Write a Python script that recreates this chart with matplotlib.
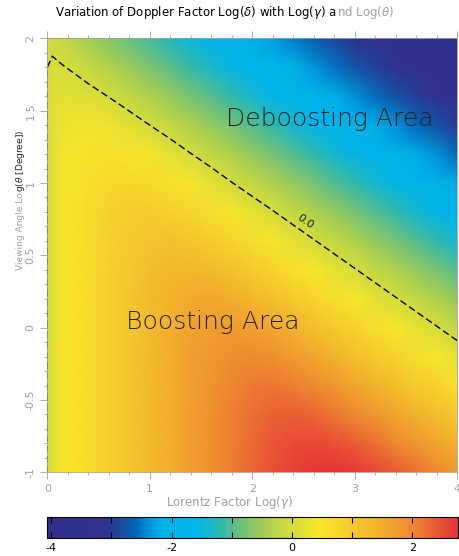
import numpy as np
import matplotlib
matplotlib.use('Agg')
import matplotlib.pyplot as plt
from matplotlib.colors import LinearSegmentedColormap, Normalize
from matplotlib.ticker import MultipleLocator

# grid nodes: Lorentz factor log(gamma) and viewing angle log(theta [deg])
log_gamma = [0, 0.05, 0.1, 0.2, 0.4, 0.6, 0.8, 1.0, 1.2, 1.4, 1.6, 1.8, 2.0,
             2.2, 2.4, 2.6, 2.8, 3.0, 3.2, 3.4, 3.6, 3.8, 4.0]
log_theta = [-1.0, -0.8, -0.6, -0.4, -0.2, 0.0, 0.2, 0.4, 0.6, 0.8, 1.0, 1.2, 1.4, 1.6, 1.8, 2.0]

# log(delta), one row per log(theta)
row_m10 = [0.00, 0.21, 0.31, 0.45, 0.68, 0.89, 1.10, 1.30, 1.50, 1.70, 1.90, 2.10, 2.29, 2.47, 2.62, 2.73, 2.76, 2.69, 2.56, 2.40, 2.21, 2.01, 1.82]
row_m08 = [0.00, 0.21, 0.31, 0.45, 0.68, 0.89, 1.10, 1.30, 1.50, 1.70, 1.90, 2.09, 2.27, 2.42, 2.53, 2.56, 2.49, 2.36, 2.20, 2.01, 1.81, 1.62, 1.42]
row_m06 = [0.00, 0.21, 0.31, 0.45, 0.68, 0.89, 1.10, 1.30, 1.50, 1.70, 1.89, 2.07, 2.22, 2.33, 2.36, 2.29, 2.16, 2.00, 1.81, 1.61, 1.42, 1.22, 1.02]
row_m04 = [0.00, 0.21, 0.31, 0.45, 0.68, 0.89, 1.10, 1.30, 1.50, 1.69, 1.87, 2.02, 2.13, 2.16, 2.09, 1.96, 1.80, 1.61, 1.41, 1.22, 1.02, 0.82, 0.62]
row_m02 = [0.00, 0.21, 0.31, 0.45, 0.68, 0.89, 1.10, 1.29, 1.49, 1.67, 1.82, 1.93, 1.96, 1.89, 1.76, 1.60, 1.41, 1.21, 1.02, 0.82, 0.62, 0.42, 0.22]
row_p00 = [0.00, 0.21, 0.31, 0.45, 0.68, 0.89, 1.09, 1.29, 1.47, 1.62, 1.73, 1.76, 1.69, 1.56, 1.40, 1.21, 1.01, 0.82, 0.62, 0.42, 0.22, 0.02, -0.18]
row_p02 = [0.00, 0.21, 0.31, 0.45, 0.68, 0.89, 1.09, 1.27, 1.42, 1.53, 1.56, 1.49, 1.36, 1.20, 1.01, 0.81, 0.62, 0.42, 0.22, 0.02, -0.18, -0.38, -0.58]
row_p04 = [0.00, 0.21, 0.31, 0.45, 0.68, 0.88, 1.07, 1.22, 1.33, 1.36, 1.29, 1.16, 1.00, 0.81, 0.61, 0.42, 0.22, 0.02, -0.18, -0.38, -0.58, -0.78, -0.98]
row_p06 = [0.00, 0.21, 0.30, 0.45, 0.67, 0.86, 1.02, 1.13, 1.16, 1.09, 0.96, 0.80, 0.61, 0.41, 0.22, 0.02, -0.18, -0.38, -0.58, -0.78, -0.98, -1.18, -1.38]
row_p08 = [0.00, 0.21, 0.30, 0.44, 0.65, 0.82, 0.93, 0.96, 0.89, 0.76, 0.60, 0.41, 0.21, 0.02, -0.18, -0.38, -0.58, -0.78, -0.98, -1.18, -1.38, -1.58, -1.78]
row_p10 = [0.00, 0.21, 0.30, 0.43, 0.62, 0.73, 0.76, 0.70, 0.57, 0.40, 0.21, 0.01, -0.18, -0.38, -0.58, -0.78, -0.98, -1.18, -1.38, -1.58, -1.78, -1.98, -2.18]
row_p12 = [0.00, 0.20, 0.28, 0.40, 0.53, 0.56, 0.50, 0.37, 0.20, 0.01, -0.18, -0.38, -0.58, -0.78, -0.98, -1.18, -1.38, -1.58, -1.78, -1.98, -2.18, -2.38, -2.58]
row_p14 = [0.00, 0.18, 0.25, 0.33, 0.37, 0.31, 0.17, 0.00, -0.18, -0.38, -0.58, -0.78, -0.98, -1.18, -1.38, -1.58, -1.78, -1.98, -2.18, -2.38, -2.58, -2.78, -2.98]
row_p16 = [0.00, 0.14, 0.17, 0.19, 0.13, -0.01, -0.18, -0.37, -0.57, -0.77, -0.97, -1.17, -1.37, -1.57, -1.77, -1.97, -2.17, -2.37, -2.57, -2.77, -2.97, -3.17, -3.37]
row_p18 = [0.00, 0.05, 0.04, -0.01, -0.17, -0.35, -0.54, -0.74, -0.94, -1.14, -1.34, -1.54, -1.74, -1.94, -2.14, -2.34, -2.54, -2.74, -2.94, -3.14, -3.34, -3.54, -3.74]
row_p20 = [0.00, -0.08, -0.14, -0.25, -0.46, -0.67, -0.87, -1.07, -1.27, -1.47, -1.67, -1.87, -2.07, -2.27, -2.47, -2.67, -2.87, -3.07, -3.27, -3.47, -3.67, -3.87, -4.07]
log_delta = np.array([row_m10, row_m08, row_m06, row_m04, row_m02, row_p00, row_p02, row_p04,
                      row_p06, row_p08, row_p10, row_p12, row_p14, row_p16, row_p18, row_p20])

x_ticks = [0, 1, 2, 3, 4]
y_ticks = [-1, -0.5, 0, 0.5, 1, 1.5, 2]
y_ticklabels = ['-1', '-0.5', '0', '0.5', '1', '1.5', '2']
cb_ticks = [-4, -3, -2, -1, 0, 1, 2]
cb_ticklabels = ['-4', '', '-2', '', '0', '', '2']

# colour table
cmap_values = [-4.07, -3.1, -2.85, -2.6, -2.4, -2.15, -1.6, -1.35, -1.15, -0.95,
               -0.63, -0.3, 0.0, 0.45, 1.0, 1.5, 2.0, 2.35, 2.76]
cmap_colors = ['#2f2f8c', '#31318e', '#1c4a9c', '#0068b8', '#0090d8', '#00b2ea',
               '#00b4ec', '#18b8cc', '#34b9a4', '#5abe88', '#90c860', '#b8d448',
               '#d4dc3c', '#f8e62a', '#f5cb2c', '#f2ae2c', '#ee8a30', '#ea6034', '#e53238']
vmin, vmax = cmap_values[0], cmap_values[-1]
stops = [(v - vmin) / (vmax - vmin) for v in cmap_values]
cmap = LinearSegmentedColormap.from_list('idl', list(zip(stops, cmap_colors)))
norm = Normalize(vmin=vmin, vmax=vmax)

GRAY = '#a0a0a0'
INK = '#222222'
plt.rcParams['lines.dashed_pattern'] = (5, 2.5)

fig = plt.figure(figsize=(4.59, 5.56), dpi=100)
ax = fig.add_axes([0.103, 0.1505, 0.8933, 0.7805])
mesh = ax.pcolormesh(log_gamma, log_theta, log_delta, shading='gouraud', cmap=cmap, norm=norm)
ax.contour(log_gamma, log_theta, log_delta, levels=[0], colors='k', linestyles='dashed', linewidths=1.0)
ax.text(2.52, 0.73, '0.0', rotation=-35, fontsize=8, ha='center', va='center', color=INK)
ax.text(2.76, 1.44, 'Deboosting Area', fontsize=18, ha='center', va='center', color=INK, fontweight='light')
ax.text(1.61, 0.04, 'Boosting Area', fontsize=18, ha='center', va='center', color=INK, fontweight='light')

ax.set_xlim(0, 4)
ax.set_ylim(-1, 2)
ax.set_xticks(x_ticks)
ax.set_yticks(y_ticks)
ax.set_yticklabels(y_ticklabels)
ax.xaxis.set_minor_locator(MultipleLocator(0.2))
ax.yaxis.set_minor_locator(MultipleLocator(0.1))
ax.tick_params(which='both', direction='out', color=GRAY, labelcolor=GRAY, top=True, labelsize=8)
ax.tick_params(which='major', length=5, width=0.6)
ax.tick_params(which='minor', length=2.5, width=0.6)
ax.tick_params(axis='y', labelrotation=90)
for s in ax.spines.values():
    s.set_color(GRAY)
    s.set_linewidth(0.6)
for lab in ax.get_yticklabels():
    lab.set_va('center')

fig.text(0.5, 0.0955, 'Lorentz Factor Log($\\gamma$)', fontsize=8.5, color=GRAY, ha='center', va='center')
t1 = fig.text(0.12, 0.978, 'Variation of Doppler Factor Log($\\delta$) with Log($\\gamma$) a',
              fontsize=8.5, va='center', ha='left')
ax.annotate('nd Log($\\theta$)', xy=(1, 0), xycoords=t1, fontsize=8.5, color=GRAY, ha='left', va='bottom')
y1 = fig.text(0.0436, 0.5144, 'Viewing Angle Lo', fontsize=6.5, color=GRAY, rotation=90, ha='center', va='bottom')
ax.annotate('g($\\theta$ [Degree])', xy=(0.5, 1), xycoords=y1, fontsize=6.5, color=INK,
            rotation=90, ha='center', va='bottom')

cax = fig.add_axes([0.1024, 0.0324, 0.8954, 0.0378])
cb = fig.colorbar(mesh, cax=cax, orientation='horizontal')
cb.set_ticks(cb_ticks)
cb.set_ticklabels(cb_ticklabels)
cax.tick_params(direction='in', length=4, width=0.8, color='k', top=True, labelsize=8)
cb.outline.set_linewidth(0.8)

fig.savefig('out.png', dpi=100)
